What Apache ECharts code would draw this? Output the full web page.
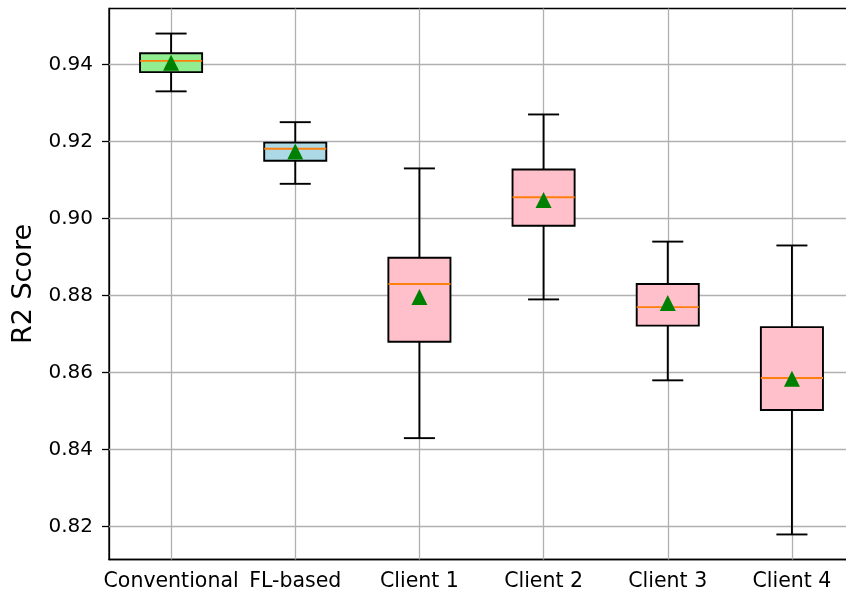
<!DOCTYPE html>
<html>
<head>
<meta charset="utf-8">
<script src="https://cdn.jsdelivr.net/npm/echarts@6/dist/echarts.min.js"></script>
<style>html,body{margin:0;padding:0;background:#fff;overflow:hidden;width:846px;height:597px;}#c{width:870px;height:597px;}</style>
</head>
<body>
<div id="c"></div>
<script>
const categories = ['Conventional', 'FL-based', 'Client 1', 'Client 2', 'Client 3', 'Client 4'];
const whiskerLow  = [0.933, 0.909, 0.843, 0.879, 0.858, 0.818];
const q1          = [0.938, 0.915, 0.868, 0.8981, 0.8722, 0.8503];
const median      = [0.9409, 0.9181, 0.883, 0.9055, 0.877, 0.8586];
const q3          = [0.9429, 0.9197, 0.8898, 0.9127, 0.883, 0.8718];
const whiskerHigh = [0.948, 0.925, 0.913, 0.927, 0.894, 0.893];
const means       = [0.9404, 0.9174, 0.8796, 0.9048, 0.8781, 0.8584];
const boxColors   = ['#90ee90', '#add8e6', '#ffc0cb', '#ffc0cb', '#ffc0cb', '#ffc0cb'];
const yTicks      = [0.82, 0.84, 0.86, 0.88, 0.90, 0.92, 0.94];

const FONT = 'DejaVu Sans';
const boxData = categories.map((c, i) => [i, whiskerLow[i], q1[i], median[i], q3[i], whiskerHigh[i]]);
const meanData = categories.map((c, i) => [i, means[i]]);

const gridLines = yTicks.map(v => ({ yAxis: v })).concat(categories.map(c => ({ xAxis: c })));

function renderBox(params, api) {
  const i = api.value(0);
  const band = api.size([1, 0])[0];
  const hw = band * 0.25, cw = band * 0.125;
  const pLow = api.coord([i, api.value(1)]);
  const pQ1 = api.coord([i, api.value(2)]);
  const pMed = api.coord([i, api.value(3)]);
  const pQ3 = api.coord([i, api.value(4)]);
  const pHigh = api.coord([i, api.value(5)]);
  const x = pQ1[0];
  const lw = 1.9;
  const black = '#000';
  return {
    type: 'group',
    children: [
      { type: 'line', shape: { x1: x, y1: pLow[1], x2: x, y2: pQ1[1] }, style: { stroke: black, lineWidth: lw } },
      { type: 'line', shape: { x1: x, y1: pQ3[1], x2: x, y2: pHigh[1] }, style: { stroke: black, lineWidth: lw } },
      { type: 'line', shape: { x1: x - cw, y1: pLow[1], x2: x + cw, y2: pLow[1] }, style: { stroke: black, lineWidth: lw } },
      { type: 'line', shape: { x1: x - cw, y1: pHigh[1], x2: x + cw, y2: pHigh[1] }, style: { stroke: black, lineWidth: lw } },
      { type: 'rect', shape: { x: x - hw, y: pQ3[1], width: 2 * hw, height: pQ1[1] - pQ3[1] },
        style: { fill: boxColors[i], stroke: black, lineWidth: lw } },
      { type: 'line', shape: { x1: x - hw, y1: pMed[1], x2: x + hw, y2: pMed[1] }, style: { stroke: '#ff7f0e', lineWidth: lw } }
    ]
  };
}

const chart = echarts.init(document.getElementById('c'), null, { renderer: 'canvas' });
chart.setOption({
  animation: false,
  backgroundColor: '#fff',
  grid: { left: 109, top: 8.5, width: 745, height: 551, show: true, borderColor: '#000', borderWidth: 1.3, backgroundColor: 'transparent' },
  xAxis: {
    type: 'category', data: categories, boundaryGap: true,
    axisLine: { lineStyle: { color: '#000', width: 1.3 } },
    axisTick: { alignWithLabel: true, length: 7, lineStyle: { color: '#000', width: 1.3 } },
    axisLabel: { color: '#000', fontSize: 20.5, fontFamily: FONT, margin: 12, interval: 0 },
    splitLine: { show: false }
  },
  yAxis: {
    type: 'value', min: 0.8115, max: 0.9545,
    name: 'R2 Score', nameLocation: 'middle', nameGap: 71,
    nameTextStyle: { color: '#000', fontSize: 27, fontFamily: FONT },
    axisLine: { show: true, lineStyle: { color: '#000', width: 1.3 } },
    axisTick: { show: true, length: 7, customValues: yTicks, lineStyle: { color: '#000', width: 1.3 } },
    axisLabel: { color: '#000', fontSize: 20, fontFamily: FONT, margin: 16, customValues: yTicks, formatter: v => v.toFixed(2) },
    splitLine: { show: false }
  },
  series: [
    {
      type: 'scatter', data: [], z: 1, silent: true,
      markLine: { silent: true, z: 1, symbol: ['none', 'none'], label: { show: false },
        lineStyle: { color: '#b0b0b0', width: 1.3, type: 'solid' }, data: gridLines, animation: false }
    },
    { type: 'custom', renderItem: renderBox, data: boxData, z: 3, encode: { x: 0, y: [1, 2, 3, 4, 5] } },
    { type: 'scatter', data: meanData, symbol: 'triangle', symbolSize: 16, itemStyle: { color: '#008000', opacity: 1 }, z: 5 }
  ]
});
</script>
</body>
</html>
